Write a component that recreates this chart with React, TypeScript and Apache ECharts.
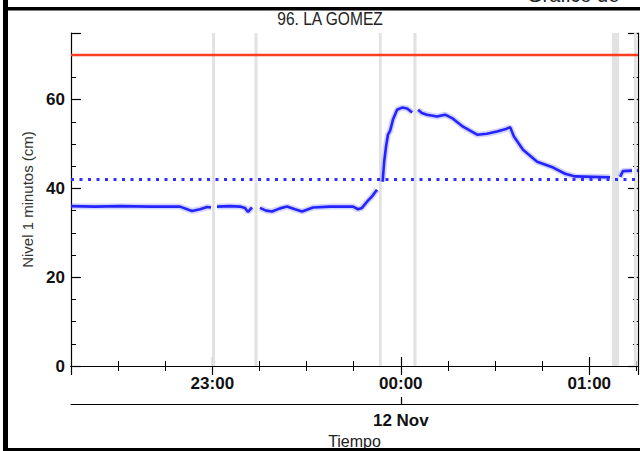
import React, { useEffect, useRef } from "react";
import * as echarts from "echarts";

// ---- data ----
const stationTitle = "96. LA GOMEZ";
const yAxisName = "Nivel 1 minutos (cm)";
const xAxisName = "Tiempo";
const monthNames = ["Jan", "Feb", "Mar", "Apr", "May", "Jun", "Jul", "Aug", "Sep", "Oct", "Nov", "Dec"];

const axisStart = "22:15:00";
const axisEnd = "01:15:30";
const yMin = 0;
const yMax = 75;
const alertLevel = 70; // red line
const meanLevel = 42; // dotted blue line

// level readings (null = data gap)
const times = [
  "22:15:00", "22:22:40", "22:30:36", "22:40:10", "22:49:42", "22:53:31", "22:56:04", "22:58:18", "22:59:34",
  "23:00:20",
  "23:01:29", "23:05:37", "23:08:48", "23:10:24", "23:11:21", "23:12:37",
  "23:13:50",
  "23:15:10", "23:17:05", "23:19:00", "23:21:32", "23:23:46", "23:26:19", "23:28:33", "23:32:03", "23:37:28",
  "23:44:47", "23:46:22", "23:47:38", "23:49:14", "23:50:50", "23:52:25",
  "23:53:30",
  "23:54:12", "23:54:42", "23:55:18", "23:55:54", "23:56:36", "23:57:30", "23:58:48", "00:00:24", "00:02:00", "00:03:36",
  "00:04:30",
  "00:05:30", "00:06:42", "00:08:18", "00:11:30", "00:14:06", "00:16:36", "00:19:48", "00:24:18", "00:27:24",
  "00:30:36", "00:33:12", "00:34:48", "00:36:00", "00:38:54", "00:43:24", "00:48:30", "00:52:18", "00:55:30",
  "01:01:12", "01:06:36",
  "01:08:30",
  "01:09:48", "01:10:42", "01:13:36",
  "01:14:30",
  "01:15:08", "01:15:30",
];
const levels: (number | null)[] = [
  36.0, 35.9, 36.0, 35.9, 35.9, 34.9, 35.3, 35.8, 35.7,
  null,
  35.9, 36.0, 35.9, 35.6, 34.7, 35.7,
  null,
  35.6, 35.0, 34.8, 35.5, 35.9, 35.3, 34.8, 35.7, 35.9,
  35.9, 35.3, 35.6, 37.0, 38.2, 39.7,
  null,
  41.5, 46.0, 49.5, 52.1, 53.0, 55.5, 57.7, 58.2, 58.0, 57.1,
  null,
  57.7, 57.0, 56.6, 56.2, 56.6, 55.7, 53.9, 52.1, 52.3,
  52.8, 53.3, 53.8, 51.7, 48.7, 46.0, 44.7, 43.3, 42.7,
  42.6, 42.5,
  null,
  42.6, 43.9, 44.0,
  null,
  44.0, 44.0,
];

// data-gap bands (start, end)
const gapStarts = ["22:59:54", "23:13:25", "23:53:00", "00:04:00", "01:07:12", "01:14:12"];
const gapEnds = ["23:00:50", "23:14:23", "23:53:55", "00:05:00", "01:09:30", "01:15:06"];

const T = (s: string) => {
  const [h, m, sec] = s.split(":").map(Number);
  const day = h >= 12 ? 11 : 12;
  return new Date(2023, 10, day, h, m, sec || 0).getTime();
};
const pad = (n: number) => (n < 10 ? "0" + n : "" + n);

const FONT = "'Liberation Sans', Arial, Helvetica, sans-serif";

export default function App() {
  const ref = useRef<HTMLDivElement>(null);
  useEffect(() => {
    if (!ref.current) return;
    const chart = echarts.init(ref.current, undefined, { renderer: "svg" });
    const xMin = T(axisStart);
    const xMax = T(axisEnd);
    const seriesData = times.map((t, i) => [T(t), levels[i]]);
    const bands = gapStarts.map((s, i) => [{ xAxis: T(s) }, { xAxis: T(gapEnds[i]) }]);

    const hourFmt = (v: number) => {
      const d = new Date(v);
      return d.getMinutes() === 0 && d.getSeconds() === 0 ? pad(d.getHours()) + ":00" : "";
    };
    const dayFmt = (v: number) => {
      const d = new Date(v);
      return d.getHours() === 0 && d.getMinutes() === 0 && d.getSeconds() === 0
        ? d.getDate() + " " + monthNames[d.getMonth()]
        : "";
    };
    const black = "#000";
    const baseX = { type: "time", min: xMin, max: xMax, gridIndex: 0, splitLine: { show: false } };
    const baseY = { type: "value", min: yMin, max: yMax, splitLine: { show: false } };

    chart.setOption({
      animation: false,
      backgroundColor: "#fff",
      grid: { left: 71, top: 33, right: 2, bottom: 85, containLabel: false, outerBoundsMode: "none" },
      xAxis: [
        {
          ...baseX,
          position: "bottom",
          minInterval: 3600e3,
          maxInterval: 3600e3,
          axisLine: { show: true, lineStyle: { color: black, width: 1.2 } },
          axisTick: { show: true, inside: true, length: 9, lineStyle: { color: black, width: 1.2 } },
          axisLabel: {
            formatter: hourFmt,
            fontSize: 17,
            fontWeight: "bold",
            color: "#111",
            fontFamily: FONT,
            margin: 9,
            hideOverlap: false,
          },
        },
        {
          ...baseX,
          position: "bottom",
          minInterval: 15.5 * 60e3,
          maxInterval: 15.5 * 60e3,
          axisLine: { show: false },
          axisTick: { show: true, inside: true, length: 5, lineStyle: { color: black, width: 1 } },
          axisLabel: { show: false },
        },
        {
          ...baseX,
          position: "top",
          minInterval: 3600e3,
          maxInterval: 3600e3,
          axisLine: { show: true, lineStyle: { color: black, width: 1.2 } },
          axisTick: { show: true, inside: true, length: 9, lineStyle: { color: black, width: 1.2 } },
          axisLabel: { show: false },
        },
        {
          ...baseX,
          position: "top",
          minInterval: 15.5 * 60e3,
          maxInterval: 15.5 * 60e3,
          axisLine: { show: false },
          axisTick: { show: true, inside: true, length: 5, lineStyle: { color: black, width: 1 } },
          axisLabel: { show: false },
        },
        {
          ...baseX,
          position: "bottom",
          offset: 38,
          minInterval: 86400e3,
          maxInterval: 86400e3,
          axisLine: { show: true, lineStyle: { color: black, width: 1.2 } },
          axisTick: { show: true, inside: true, length: 7, lineStyle: { color: black, width: 1.2 } },
          axisLabel: {
            formatter: dayFmt,
            fontSize: 17,
            fontWeight: "bold",
            color: "#111",
            fontFamily: FONT,
            margin: 8,
            hideOverlap: false,
          },
          name: xAxisName,
          nameLocation: "middle",
          nameGap: 26,
          nameTextStyle: { fontSize: 16, color: "#222", fontFamily: FONT },
        },
      ],
      yAxis: [
        {
          ...baseY,
          position: "left",
          interval: 20,
          axisLine: { show: true, lineStyle: { color: black, width: 1.2 } },
          axisTick: { show: true, inside: true, length: 10, lineStyle: { color: black, width: 1.2 } },
          axisLabel: {
            formatter: (v: number) => (v % 20 === 0 ? String(v) : ""),
            fontSize: 17,
            fontWeight: "bold",
            color: "#111",
            fontFamily: FONT,
            margin: 6,
          },
          name: yAxisName,
          nameLocation: "middle",
          nameGap: 34,
          nameTextStyle: { fontSize: 15, color: "#333", fontFamily: FONT },
        },
        {
          ...baseY,
          position: "left",
          interval: 5,
          axisLine: { show: false },
          axisTick: { show: true, inside: true, length: 5, lineStyle: { color: black, width: 1 } },
          axisLabel: { show: false },
        },
        {
          ...baseY,
          position: "right",
          interval: 20,
          axisLine: { show: true, lineStyle: { color: black, width: 1.2 } },
          axisTick: { show: true, inside: true, length: 10, lineStyle: { color: black, width: 1.2 } },
          axisLabel: { show: false },
        },
        {
          ...baseY,
          position: "right",
          interval: 5,
          axisLine: { show: false },
          axisTick: { show: true, inside: true, length: 5, lineStyle: { color: black, width: 1 } },
          axisLabel: { show: false },
        },
      ],
      series: [
        {
          name: "halo",
          type: "line",
          data: seriesData,
          xAxisIndex: 0,
          yAxisIndex: 0,
          showSymbol: false,
          connectNulls: false,
          silent: true,
          z: 2,
          lineStyle: { color: "rgba(80,80,255,0.25)", width: 6 },
        },
        {
          name: "nivel",
          type: "line",
          data: seriesData,
          xAxisIndex: 0,
          yAxisIndex: 0,
          showSymbol: false,
          connectNulls: false,
          z: 3,
          lineStyle: { color: "#2424ff", width: 2.6 },
          markLine: {
            silent: true,
            symbol: ["none", "none"],
            label: { show: false },
            data: [
              { yAxis: alertLevel, lineStyle: { color: "#ff3b22", width: 2.4, type: "solid" } },
              { yAxis: meanLevel, lineStyle: { color: "#3030ff", width: 3, type: [3, 5.5] } },
            ],
          },
        },
        {
          name: "gaps",
          type: "line",
          data: [],
          xAxisIndex: 0,
          yAxisIndex: 0,
          z: 4,
          silent: true,
          markArea: {
            silent: true,
            itemStyle: { color: "#e2e2e2" },
            data: bands,
          },
        },
      ],
      graphic: [
        { type: "rect", shape: { x: 3, y: 0, width: 5, height: 451 }, style: { fill: "#000" }, z: 100 },
        { type: "rect", shape: { x: 3, y: 7, width: 637, height: 3.5 }, style: { fill: "#000" }, z: 100 },
        { type: "rect", shape: { x: 3, y: 448, width: 637, height: 3 }, style: { fill: "#000" }, z: 100 },
        {
          type: "text",
          x: 330,
          y: 18,
          scaleX: 0.82,
          z: 50,
          style: {
            text: stationTitle,
            fill: "#222",
            font: "19px " + FONT,
            textAlign: "center",
            textVerticalAlign: "middle",
          },
        },
        {
          type: "text",
          x: 527,
          y: 5,
          z: 50,
          style: {
            text: "Gráfico de",
            fill: "#222",
            font: "20px " + FONT,
            textAlign: "left",
            textVerticalAlign: "bottom",
          },
        },
      ],
    });
    return () => chart.dispose();
  }, []);
  return <div ref={ref} style={{ position: "absolute", left: 0, top: 0, width: 640, height: 451 }} />;
}
